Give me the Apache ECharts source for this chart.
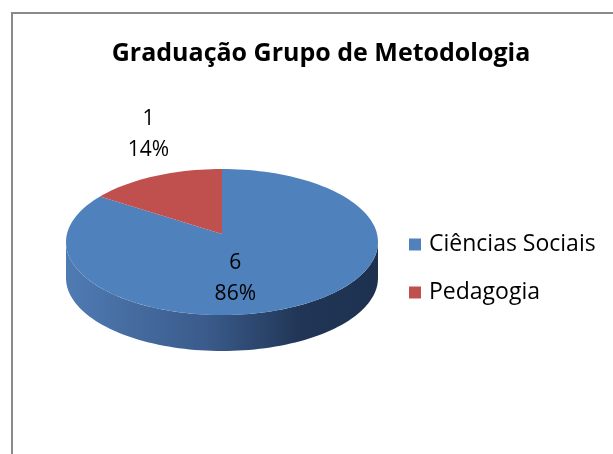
<!DOCTYPE html>
<html>
<head>
<meta charset="utf-8">
<script src="https://cdn.jsdelivr.net/npm/echarts@6/dist/echarts.min.js"></script>
<style>
  html, body { margin: 0; padding: 0; background: #fff; }
  #chart { width: 613px; height: 454px; }
</style>
</head>
<body>
<div id="chart"></div>
<script>
const categories = ["Ciências Sociais", "Pedagogia"];
const values = [6, 1];
const colors = ["#4f81bd", "#c0504d"];

const total = values.reduce((a, b) => a + b, 0);

// geometry of the tilted pie
const cx = 222, cy = 242, rx = 156, ry = 73, depth = 36, apexLift = 8;
const font = "'Open Sans', 'DejaVu Sans', sans-serif";

function pt(deg, dy) {
  const r = deg * Math.PI / 180;
  return [cx + rx * Math.sin(r), cy - ry * Math.cos(r) + (dy || 0)];
}

function arc(a0, a1, dy) {
  const pts = [];
  const n = Math.max(2, Math.ceil(Math.abs(a1 - a0) / 2));
  for (let i = 0; i <= n; i++) {
    pts.push(pt(a0 + (a1 - a0) * i / n, dy));
  }
  return pts;
}

function sideGradient(i) {
  const stops = i === 0
    ? [
        { offset: 0, color: "#4f7bb3" },
        { offset: 0.45, color: "#3a5b8b" },
        { offset: 0.75, color: "#213656" },
        { offset: 1, color: "#1d3050" }
      ]
    : [
        { offset: 0, color: "#b24d4a" },
        { offset: 1, color: "#5e2422" }
      ];
  return new echarts.graphic.LinearGradient(cx - rx, 0, cx + rx, 0, stops, true);
}

function renderItem(params, api) {
  const i = params.seriesIndex;
  const v = api.value(0);
  let start = 0;
  for (let k = 0; k < i; k++) start += values[k] / total * 360;
  const end = start + v / total * 360;
  const children = [];

  // visible front wall
  const s0 = Math.max(start, 90), s1 = Math.min(end, 270);
  if (s1 > s0) {
    children.push({
      type: "polygon",
      shape: { points: arc(s0, s1, 0).concat(arc(s1, s0, depth)) },
      style: { fill: sideGradient(i) }
    });
  }

  // top face
  children.push({
    type: "polygon",
    shape: { points: [[cx, cy - apexLift]].concat(arc(start, end, 0)) },
    style: { fill: colors[i] }
  });

  // label
  const mid = (start + end) / 2;
  const pct = Math.round(v / total * 100) + "%";
  let p, va;
  if (v / total > 0.5) {
    p = pt(mid, 0);
    p = [cx + (p[0] - cx) * 0.3 - 7, cy + (p[1] - cy) * 0.3 + 17];
    va = "middle";
  } else {
    p = pt(mid, 0);
    p = [cx + (p[0] - cx) * 1.1 + 1, cy + (p[1] - cy) * 1.1 - 4];
    va = "bottom";
  }
  children.push({
    type: "text",
    x: p[0],
    y: p[1],
    style: {
      text: v + "\n" + pct,
      fontSize: 21,
      fontFamily: font,
      fill: "#000",
      align: "center",
      verticalAlign: va,
      lineHeight: 31
    }
  });

  return { type: "group", children: children };
}

const chart = echarts.init(document.getElementById("chart"));
chart.setOption({
  animation: false,
  backgroundColor: "#fff",
  title: {
    text: "Graduação Grupo de Metodologia",
    left: 316,
    top: 36,
    textAlign: "center",
    textStyle: { fontSize: 25, fontWeight: "bold", fontFamily: font, color: "#000" }
  },
  legend: {
    orient: "vertical",
    left: 409,
    top: 233,
    itemWidth: 12,
    itemHeight: 12,
    itemGap: 25,
    icon: "rect",
    padding: 0,
    data: categories,
    textStyle: { fontSize: 23, fontFamily: font, color: "#000", padding: [0, 0, 0, 3] }
  },
  graphic: [
    {
      type: "rect",
      shape: { x: 12, y: 13, width: 700, height: 600 },
      style: { fill: null, stroke: "#8a8a8a", lineWidth: 2 },
      silent: true
    }
  ],
  series: categories.map((name, i) => ({
    name: name,
    type: "custom",
    coordinateSystem: "none",
    itemStyle: { color: colors[i] },
    renderItem: renderItem,
    data: [[values[i]]]
  }))
});
</script>
</body>
</html>
